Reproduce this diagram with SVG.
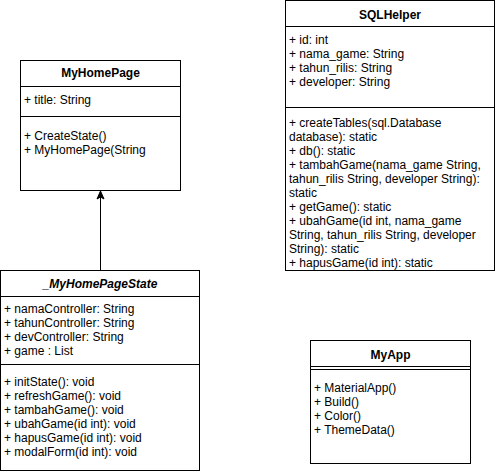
<svg xmlns="http://www.w3.org/2000/svg" width="496" height="474" viewBox="0 0 496 474">
<style>
.box{fill:#fff;stroke:#000;stroke-width:1}
.ln{stroke:#000;stroke-width:1;fill:none}
text{font-family:"Liberation Sans",Arial,sans-serif;font-size:12px;fill:#000}
.t{font-weight:bold;text-anchor:middle}
.ti{font-weight:bold;font-style:italic;text-anchor:middle}
</style>
<rect width="496" height="474" fill="#fff"/>
<g id="connectors">
<line class="ln" x1="100.5" y1="270" x2="100.5" y2="197"/>
<polygon points="100.5,191 104,199 100.5,197 97,199" fill="#000" stroke="#000"/>
</g>
<g id="MyHomePage">
<rect class="box" x="20.5" y="60.5" width="160" height="130"/>
<line class="ln" x1="20.5" y1="86.5" x2="180.5" y2="86.5"/>
<line class="ln" x1="20.5" y1="116.5" x2="180.5" y2="116.5"/>
<text class="t" x="100.5" y="77">MyHomePage</text>
<text x="24" y="104">+ title: String</text>
<text x="24" y="140">+ CreateState()</text>
<text x="24" y="154">+ MyHomePage(String</text>
</g>
<g id="MyHomePageState">
<rect class="box" x="0.5" y="270.5" width="199" height="200"/>
<line class="ln" x1="0.5" y1="296.5" x2="199.5" y2="296.5"/>
<line class="ln" x1="0.5" y1="364.5" x2="199.5" y2="364.5"/>
<text class="ti" x="100" y="288">_MyHomePageState</text>
<text x="4" y="313">+ namaController: String</text>
<text x="4" y="327">+ tahunController: String</text>
<text x="4" y="341">+ devController: String</text>
<text x="4" y="355">+ game : List</text>
<text x="4" y="386">+ initState(): void</text>
<text x="4" y="400">+ refreshGame(): void</text>
<text x="4" y="414">+ tambahGame(): void</text>
<text x="4" y="428">+ ubahGame(id int): void</text>
<text x="4" y="442">+ hapusGame(id int): void</text>
<text x="4" y="456">+ modalForm(id int): void</text>
</g>
<g id="SQLHelper">
<rect class="box" x="285.5" y="0.5" width="209" height="270"/>
<line class="ln" x1="285.5" y1="26.5" x2="494.5" y2="26.5"/>
<line class="ln" x1="285.5" y1="107.5" x2="494.5" y2="107.5"/>
<text class="t" x="390" y="19">SQLHelper</text>
<text x="289" y="44">+ id: int</text>
<text x="289" y="58">+ nama_game: String</text>
<text x="289" y="72">+ tahun_rilis: String</text>
<text x="289" y="86">+ developer: String</text>
<text x="289" y="127">+ createTables(sql.Database</text>
<text x="289" y="141">database): static</text>
<text x="289" y="155">+ db(): static</text>
<text x="289" y="169">+ tambahGame(nama_game String,</text>
<text x="289" y="183">tahun_rilis String, developer String):</text>
<text x="289" y="197">static</text>
<text x="289" y="211">+ getGame(): static</text>
<text x="289" y="225">+ ubahGame(id int, nama_game</text>
<text x="289" y="239">String, tahun_rilis String, developer</text>
<text x="289" y="253">String): static</text>
<text x="289" y="267">+ hapusGame(id int): static</text>
</g>
<g id="MyApp">
<rect class="box" x="310.5" y="340.5" width="160" height="123"/>
<line class="ln" x1="310.5" y1="366.5" x2="470.5" y2="366.5"/>
<line class="ln" x1="310.5" y1="369.5" x2="470.5" y2="369.5"/>
<text class="t" x="390.5" y="359">MyApp</text>
<text x="314" y="392">+ MaterialApp()</text>
<text x="314" y="406">+ Build()</text>
<text x="314" y="420">+ Color()</text>
<text x="314" y="434">+ ThemeData()</text>
</g>
</svg>
